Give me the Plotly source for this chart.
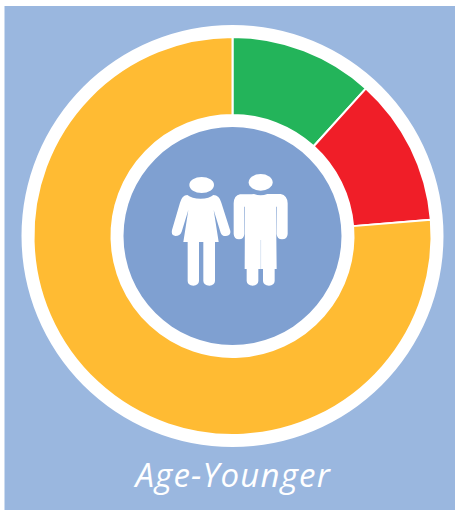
import plotly.graph_objects as go

W, H = 455, 511
labels = ["Green", "Red", "Amber"]
values = [11.7, 12.0, 76.3]
colors = ["#23B45A", "#F01E28", "#FFBB33"]
title = "Age-Younger"

CX, CY = 232.5, 236
R_HALO, R_RING, R_HOLE, R_CORE = 211, 199, 121, 109
PANEL, CORE = "#9AB7DF", "#7FA0D1"


def dom(r):
    return dict(x=[(CX - r) / W, (CX + r) / W], y=[1 - (CY + r) / H, 1 - (CY - r) / H])


def disc(r, color):
    return go.Pie(values=[1], domain=dom(r), hole=0, sort=False, textinfo="none", hoverinfo="skip",
                  showlegend=False, marker=dict(colors=[color], line=dict(width=0)))


fig = go.Figure()
fig.add_trace(disc(R_HALO, "white"))
fig.add_trace(go.Pie(labels=labels, values=values, domain=dom(R_RING), hole=R_HOLE / R_RING,
                     sort=False, direction="clockwise", rotation=0, textinfo="none", showlegend=False,
                     marker=dict(colors=colors, line=dict(color="white", width=2))))
fig.add_trace(disc(R_CORE, CORE))


def z(zx, zy):
    # icon geometry measured on the 3x crop whose origin is (150,150)
    return (150 + zx / 3) / W, 1 - (150 + zy / 3) / H


def path(cmds):
    out = []
    for c in cmds:
        if c[0] == "Z":
            out.append("Z")
        elif c[0] == "Q":
            a, b = z(c[1], c[2]), z(c[3], c[4])
            out.append(f"Q{a[0]:.5f},{a[1]:.5f} {b[0]:.5f},{b[1]:.5f}")
        else:
            a = z(c[1], c[2])
            out.append(f"{c[0]}{a[0]:.5f},{a[1]:.5f}")
    return " ".join(out)


woman = [("M", 112, 135), ("Q", 125, 146, 152, 146), ("Q", 178, 146, 190, 135), ("Q", 208, 135, 214, 158),
         ("L", 241, 243), ("Q", 243, 256, 228, 258), ("Q", 216, 259, 212, 248), ("L", 191, 180),
         ("L", 206, 276), ("L", 195, 276), ("L", 195, 393), ("Q", 194, 406, 178, 407), ("Q", 161, 406, 160, 393),
         ("L", 160, 276), ("L", 147, 276), ("L", 147, 393), ("Q", 146, 406, 130, 407), ("Q", 113, 406, 113, 393),
         ("L", 113, 276), ("L", 100, 276), ("L", 115, 180), ("L", 95, 245), ("Q", 90, 258, 76, 258),
         ("Q", 62, 256, 66, 240), ("L", 90, 158), ("Q", 96, 136, 112, 135), ("Z",)]
man = [("M", 270, 133), ("Q", 300, 133, 312, 132), ("Q", 332, 140, 352, 132), ("L", 392, 132), ("Q", 412, 136, 413, 160),
       ("L", 413, 252), ("Q", 412, 268, 396, 268), ("Q", 381, 268, 380, 252), ("L", 380, 170), ("L", 378, 170),
       ("L", 380, 357), ("L", 374, 357), ("L", 374, 393), ("Q", 373, 406, 357, 407), ("Q", 340, 406, 339, 393),
       ("L", 339, 357), ("L", 325, 357), ("L", 325, 393), ("Q", 324, 406, 308, 407), ("Q", 291, 406, 290, 393),
       ("L", 290, 357), ("L", 284, 357), ("L", 285, 170), ("L", 283, 170), ("L", 283, 252), ("Q", 282, 268, 267, 268),
       ("Q", 252, 268, 251, 252), ("L", 251, 160), ("Q", 252, 136, 270, 133), ("Z",)]
man_slit = [("M", 332, 270), ("L", 332, 357)]

shapes = [dict(type="rect", xref="paper", yref="paper", x0=4.5 / W, x1=1, y0=1 / H, y1=1 - 6 / H,
               fillcolor=PANEL, line_width=0, layer="below")]
for cx, cy, rx, ry in [(155, 105, 37, 24), (332, 97, 36, 25)]:
    a, b = z(cx - rx, cy - ry), z(cx + rx, cy + ry)
    shapes.append(dict(type="circle", xref="paper", yref="paper", x0=a[0], y0=b[1], x1=b[0], y1=a[1],
                       fillcolor="white", line_width=0))
for p in (woman, man):
    shapes.append(dict(type="path", xref="paper", yref="paper", path=path(p), fillcolor="white", line_width=0))
shapes.append(dict(type="path", xref="paper", yref="paper", path=path(man_slit), line=dict(color="#DCE6F4", width=1)))

fig.update_layout(
    width=W, height=H, margin=dict(l=0, r=0, t=0, b=0), paper_bgcolor="white", showlegend=False,
    shapes=shapes,
    annotations=[dict(text=title, x=233 / W, y=1 - 474 / H, xref="paper", yref="paper",
                      showarrow=False, xanchor="center", yanchor="middle",
                      font=dict(family="Open Sans", size=33, color="white", style="italic"))],
)
post = """
document.documentElement.style.margin = '0';
document.documentElement.style.overflow = 'hidden';
document.body.style.margin = '0';
document.querySelectorAll('.annotation-text').forEach(function (t) { t.style.letterSpacing = '1.2px'; });
"""
fig.write_html("out.html", config=dict(displayModeBar=False), post_script=post)
